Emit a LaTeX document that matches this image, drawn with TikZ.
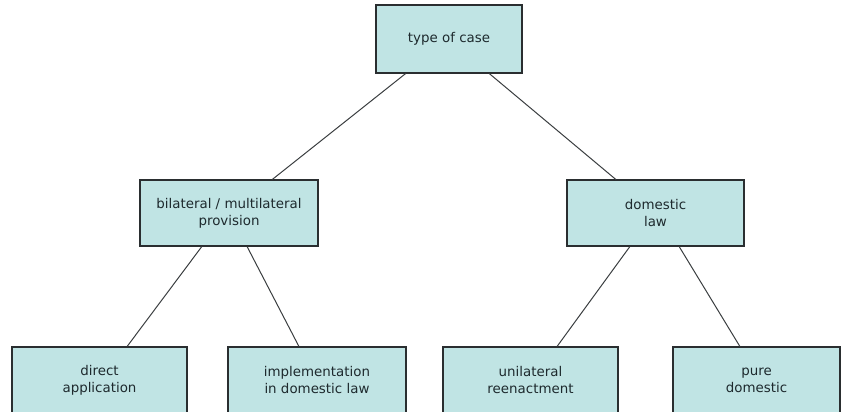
\documentclass[tikz,border=0pt]{standalone}
\usepackage{fontspec}
\setmainfont{DejaVu Sans}
\usetikzlibrary{calc}
\definecolor{boxfill}{HTML}{C0E4E4}
\definecolor{boxline}{HTML}{2A2E30}
\definecolor{txt}{HTML}{1E2A2E}
\definecolor{linkcol}{HTML}{3A3E40}
\tikzset{
  box/.style={draw=boxline, line width=1.2pt, fill=boxfill, text=txt, align=center,
    inner sep=0pt, font=\fontsize{13.4}{17}\selectfont},
  link/.style={draw=linkcol, line width=1pt}
}
\begin{document}
\begin{tikzpicture}[x=1pt,y=-1pt]
\useasboundingbox (0,0) rectangle (844,412);
\begin{scope}
\clip (0,0) rectangle (844,412);
\node[box, minimum width=146pt, minimum height=68pt] (top) at (449,39) {type of case};
\node[box, minimum width=178pt, minimum height=66pt] (bil) at (229,213) {bilateral / multilateral\\provision};
\node[box, minimum width=177pt, minimum height=66pt] (dom) at (655.5,213) {domestic\\law};
\node[box, minimum width=175pt, minimum height=67pt] (dir) at (99.5,380.5) {direct\\application};
\node[box, minimum width=178pt, minimum height=67pt] (imp) at (317,380.5) {implementation\\in domestic law};
\node[box, minimum width=175pt, minimum height=67pt] (uni) at (530.5,380.5) {unilateral\\reenactment};
\node[box, minimum width=167pt, minimum height=67pt] (pur) at (756.5,380.5) {pure\\domestic};
\end{scope}
\draw[link] ($(top.south west)!0.205!(top.south east)$) -- ($(bil.north west)!0.742!(bil.north east)$);
\draw[link] ($(top.south west)!0.774!(top.south east)$) -- ($(dom.north west)!0.277!(dom.north east)$);
\draw[link] ($(bil.south west)!0.348!(bil.south east)$) -- ($(dir.north west)!0.657!(dir.north east)$);
\draw[link] ($(bil.south west)!0.601!(bil.south east)$) -- ($(imp.north west)!0.399!(imp.north east)$);
\draw[link] ($(dom.south west)!0.356!(dom.south east)$) -- ($(uni.north west)!0.651!(uni.north east)$);
\draw[link] ($(dom.south west)!0.633!(dom.south east)$) -- ($(pur.north west)!0.401!(pur.north east)$);
\end{tikzpicture}
\end{document}
